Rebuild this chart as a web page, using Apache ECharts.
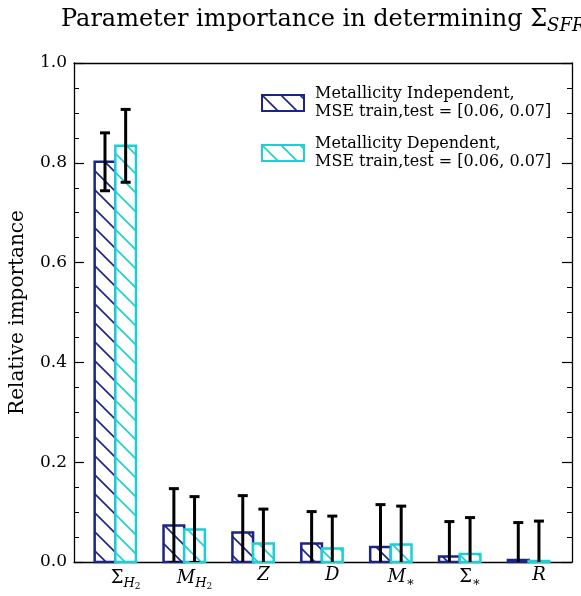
<!DOCTYPE html>
<html>

<head>
  <meta charset="utf-8" />
  <script src="https://cdn.jsdelivr.net/npm/echarts@6/dist/echarts.min.js"></script>
</head>

<body style="margin:0;background:#fff">
  <div id="main" style="width: 581px;height:596px;"></div>
  <script type="text/javascript">
    // parameters (x labels in rich text form)
    var params = ['Σ_H2', 'M_H2', 'Z', 'D', 'M_*', 'Σ_*', 'R']
    var paramLabels = [
      '{m|Σ}{s|H}{ss|2}',
      '{i|M}{s|H}{ss|2}',
      '{i|Z}',
      '{i|D}',
      '{i|M}{s|∗}',
      '{m|Σ}{s|∗}',
      '{i|R}'
    ]
    // metallicity independent model
    var indepVals = [0.802, 0.073, 0.059, 0.037, 0.030, 0.011, 0.004]
    var indepErr = [0.058, 0.074, 0.074, 0.064, 0.085, 0.070, 0.075]
    // metallicity dependent model
    var depVals = [0.834, 0.065, 0.037, 0.027, 0.035, 0.016, 0.002]
    var depErr = [0.073, 0.066, 0.069, 0.065, 0.077, 0.073, 0.080]
    var seriesNames = ['indep', 'dep']
    var legendText = {
      indep: 'Metallicity Independent,\nMSE train,test = [0.06, 0.07]',
      dep: 'Metallicity Dependent,\nMSE train,test = [0.06, 0.07]'
    }

    var NAVY = '#1c2585'
    var CYAN = '#1ccfd2'
    var FONT = 'DejaVu Serif'
    var barW = 0.3 // in category units

    function hatch(color) {
      var s = 19
      var c = document.createElement('canvas')
      c.width = s; c.height = s
      var ctx = c.getContext('2d')
      ctx.fillStyle = '#fff'
      ctx.fillRect(0, 0, s, s)
      ctx.strokeStyle = color
      ctx.lineWidth = 1.6
      ctx.beginPath()
      ctx.moveTo(-1, -1); ctx.lineTo(s + 1, s + 1)
      ctx.moveTo(-1, s - 1); ctx.lineTo(1, s + 1)
      ctx.moveTo(s - 1, -1); ctx.lineTo(s + 1, 1)
      ctx.stroke()
      return { image: c, repeat: 'repeat' }
    }

    function barData(vals) {
      return vals.map(function (v, i) { return [i, v] })
    }
    function errData(vals, errs) {
      return vals.map(function (v, i) { return [i, v - errs[i], v + errs[i]] })
    }

    function barRender(off) {
      return function (p, api) {
        var x = api.value(0), y = api.value(1)
        var a = api.coord([x + off - barW / 2, y])
        var b = api.coord([x + off + barW / 2, 0])
        return {
          type: 'rect',
          shape: { x: a[0], y: a[1], width: b[0] - a[0], height: b[1] - a[1] },
          style: api.style()
        }
      }
    }

    function errRender(off) {
      return function (p, api) {
        var x = api.value(0) + off
        var lo = api.coord([x, api.value(1)])
        var hi = api.coord([x, api.value(2)])
        var cw = 5
        var st = { stroke: '#000', lineWidth: 3, fill: null }
        return {
          type: 'group',
          children: [
            { type: 'line', shape: { x1: hi[0], y1: hi[1], x2: lo[0], y2: lo[1] }, style: st },
            { type: 'line', shape: { x1: hi[0] - cw, y1: hi[1], x2: hi[0] + cw, y2: hi[1] }, style: st },
            { type: 'line', shape: { x1: lo[0] - cw, y1: lo[1], x2: lo[0] + cw, y2: lo[1] }, style: st }
          ]
        }
      }
    }

    var myChart = echarts.init(document.getElementById('main'))

    var yAxisBase = {
      type: 'value',
      min: 0,
      max: 1,
      interval: 0.2,
      axisLine: { show: true, onZero: false, lineStyle: { color: '#000', width: 1.3 } },
      axisTick: { show: true, inside: true, length: 10, lineStyle: { color: '#000', width: 1.2 } },
      minorTick: { show: true, splitNumber: 4, length: 5, lineStyle: { color: '#000', width: 1 } },
      splitLine: { show: false }
    }

    var option = {
      animation: false,
      backgroundColor: '#fff',
      title: {
        text: '{a|Parameter importance in determining Σ}{s|SFR}',
        left: 56,
        top: 0,
        textStyle: {
          fontWeight: 'normal',
          rich: {
            a: { fontFamily: FONT, fontSize: 24, fontWeight: 'normal', color: '#000' },
            s: { fontFamily: FONT, fontSize: 18, fontWeight: 'normal', fontStyle: 'italic', color: '#000', padding: [12, 0, 0, 0] }
          }
        }
      },
      grid: { left: 71, right: 9, top: 63, bottom: 34 },
      legend: {
        orient: 'vertical',
        left: 256,
        top: 80,
        itemWidth: 42,
        itemHeight: 16,
        itemGap: 14,
        icon: 'rect',
        data: seriesNames,
        formatter: function (n) { return legendText[n] },
        textStyle: { fontFamily: FONT, fontSize: 16, lineHeight: 18, color: '#000', padding: [0, 0, 0, 6] }
      },
      xAxis: [{
        type: 'value',
        min: -0.6,
        max: 6.63,
        axisLine: { show: true, onZero: false, lineStyle: { color: '#000', width: 1.3 } },
        axisTick: { show: false },
        splitLine: { show: false },
        axisLabel: {
          customValues: params.map(function (d, i) { return i + 0.15 }),
          margin: 4,
          formatter: function (v) { return paramLabels[Math.round(v - 0.15)] },
          rich: {
            m: { fontFamily: FONT, fontSize: 18, color: '#000' },
            i: { fontFamily: FONT, fontSize: 18, fontStyle: 'italic', color: '#000' },
            s: { fontFamily: FONT, fontSize: 13, fontStyle: 'italic', color: '#000', padding: [10, 0, 0, 0] },
            ss: { fontFamily: FONT, fontSize: 9, color: '#000', padding: [16, 0, 0, 0] }
          }
        }
      }, {
        type: 'value',
        position: 'top',
        min: -0.6,
        max: 6.63,
        axisLine: { show: true, onZero: false, lineStyle: { color: '#000', width: 1.3 } },
        axisTick: { show: false },
        axisLabel: { show: false },
        splitLine: { show: false }
      }],
      yAxis: [Object.assign({}, yAxisBase, {
        name: 'Relative importance',
        nameLocation: 'middle',
        nameGap: 46,
        nameTextStyle: { fontFamily: FONT, fontSize: 20, color: '#000' },
        axisLabel: {
          margin: 7,
          fontFamily: FONT,
          fontSize: 17,
          color: '#000',
          formatter: function (v) { return v.toFixed(1) }
        }
      }), Object.assign({}, yAxisBase, {
        position: 'right',
        axisLabel: { show: false }
      })],
      series: [
        {
          name: 'indep',
          type: 'custom',
          renderItem: barRender(-0.15),
          itemStyle: { color: hatch(NAVY), borderColor: NAVY, borderWidth: 2.5 },
          data: barData(indepVals),
          encode: { x: 0, y: 1 },
          z: 2
        },
        {
          name: 'dep',
          type: 'custom',
          renderItem: barRender(0.15),
          itemStyle: { color: hatch(CYAN), borderColor: CYAN, borderWidth: 2.5 },
          data: barData(depVals),
          encode: { x: 0, y: 1 },
          z: 2
        },
        {
          type: 'custom',
          renderItem: errRender(-0.15),
          data: errData(indepVals, indepErr),
          encode: { x: 0, y: [1, 2] },
          clip: true,
          silent: true,
          z: 3
        },
        {
          type: 'custom',
          renderItem: errRender(0.15),
          data: errData(depVals, depErr),
          encode: { x: 0, y: [1, 2] },
          clip: true,
          silent: true,
          z: 3
        }
      ]
    }

    myChart.setOption(option)
  </script>
</body>

</html>
